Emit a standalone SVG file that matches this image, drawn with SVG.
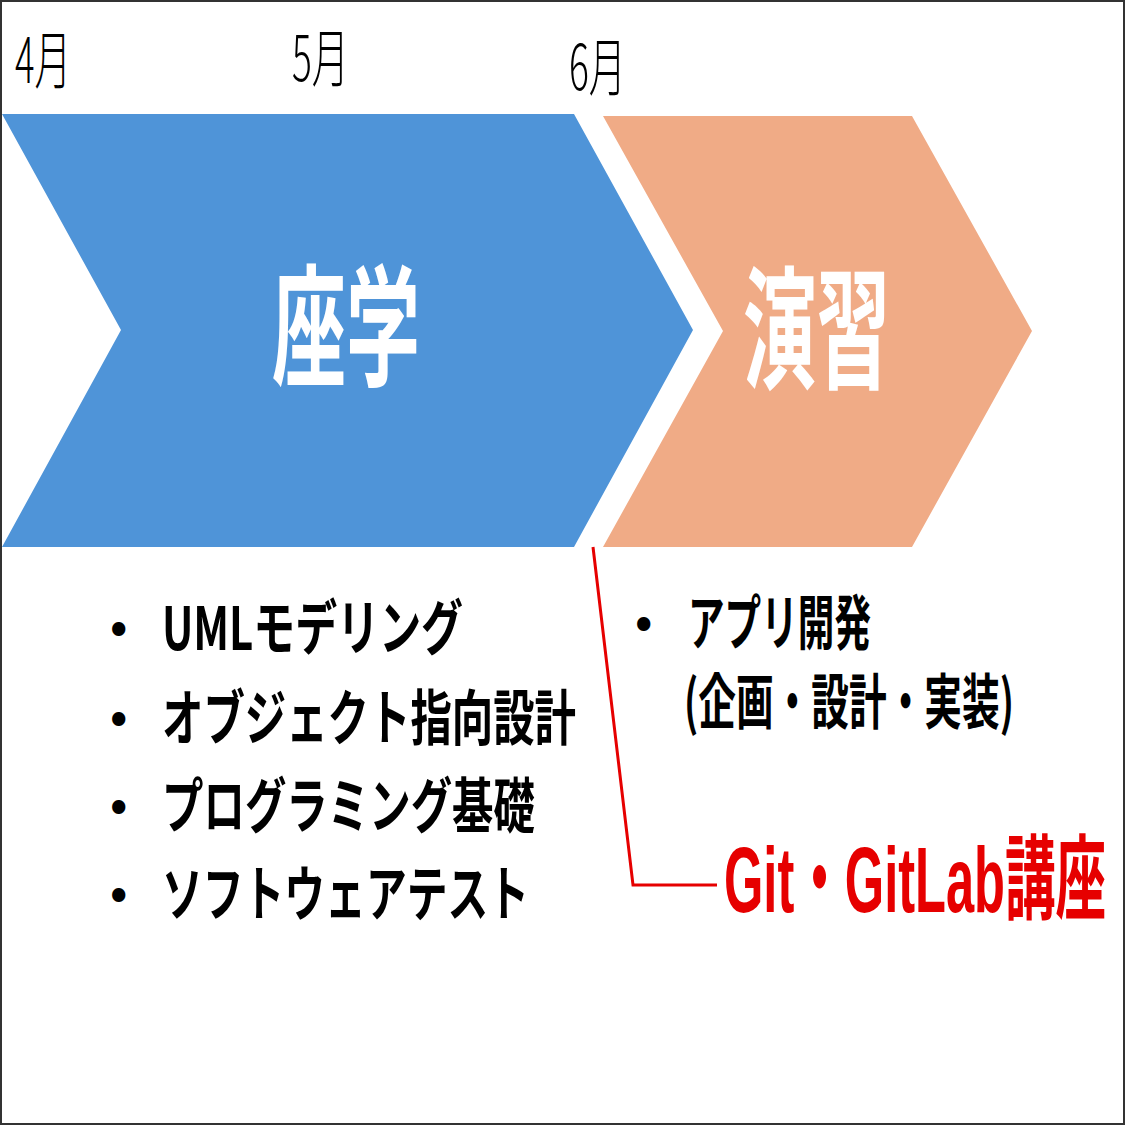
<svg xmlns="http://www.w3.org/2000/svg" width="1125" height="1125" viewBox="0 0 1125 1125">
<style>
.jp{font-family:"Noto Sans CJK JP","Noto Sans",sans-serif;}
.month{font-size:63px;font-weight:300;fill:#000;}
.title{font-size:132px;font-weight:700;fill:#fff;}
.item{font-size:60px;font-weight:700;fill:#000;}
.bul{font-size:46px;font-weight:700;fill:#000;}
.note{font-family:"Liberation Sans","Noto Sans CJK JP",sans-serif;font-size:92px;font-weight:700;fill:#e60000;}
</style>
<rect x="0" y="0" width="1125" height="1125" fill="#fff"/>
<rect x="1" y="1" width="1123" height="1123" fill="none" stroke="#333" stroke-width="2"/>
<g id="months">
<text class="jp month" x="15" y="83" textLength="56" lengthAdjust="spacingAndGlyphs">4月</text>
<text class="jp month" x="292" y="81" textLength="57" lengthAdjust="spacingAndGlyphs">5月</text>
<text class="jp month" x="569" y="90" textLength="57" lengthAdjust="spacingAndGlyphs">6月</text>
</g>
<g id="zagaku">
<polygon points="2,114 574,114 693,330 574,547 2,547 121,330" fill="#4f94d8"/>
<text class="jp title" x="272" y="376" textLength="148" lengthAdjust="spacingAndGlyphs">座学</text>
</g>
<g id="enshu">
<polygon points="603,116 912,116 1032,331 912,547 603,547 723,331" fill="#f0ab86"/>
<text class="jp title" x="743" y="378" textLength="147" lengthAdjust="spacingAndGlyphs">演習</text>
</g>
<g id="zagaku-list">
<text class="jp bul" x="110" y="643">•</text>
<text class="jp item" x="162" y="650" textLength="301" lengthAdjust="spacingAndGlyphs">UMLモデリング</text>
<text class="jp bul" x="110" y="733">•</text>
<text class="jp item" x="162" y="740" textLength="414" lengthAdjust="spacingAndGlyphs">オブジェクト指向設計</text>
<text class="jp bul" x="110" y="821">•</text>
<text class="jp item" x="162" y="828" textLength="373" lengthAdjust="spacingAndGlyphs">プログラミング基礎</text>
<text class="jp bul" x="110" y="909">•</text>
<text class="jp item" x="162" y="916" textLength="367" lengthAdjust="spacingAndGlyphs">ソフトウェアテスト</text>
</g>
<g id="enshu-list">
<text class="jp bul" x="635" y="638">•</text>
<text class="jp item" x="688" y="645" textLength="183" lengthAdjust="spacingAndGlyphs">アプリ開発</text>
<g transform="translate(684,724) scale(0.6,1)">
<text class="jp item" x="0" y="0" textLength="550" lengthAdjust="spacingAndGlyphs">(企画・設計・実装)</text>
</g>
</g>
<g id="connectors">
<polyline points="593,547 633,885 717,885" fill="none" stroke="#e60000" stroke-width="3"/>
</g>
<g id="git-note">
<g transform="translate(724,912) scale(0.6,1)">
<text class="note" x="0" y="0" textLength="637" lengthAdjust="spacingAndGlyphs">Git・GitLab講座</text>
</g>
</g>
</svg>
